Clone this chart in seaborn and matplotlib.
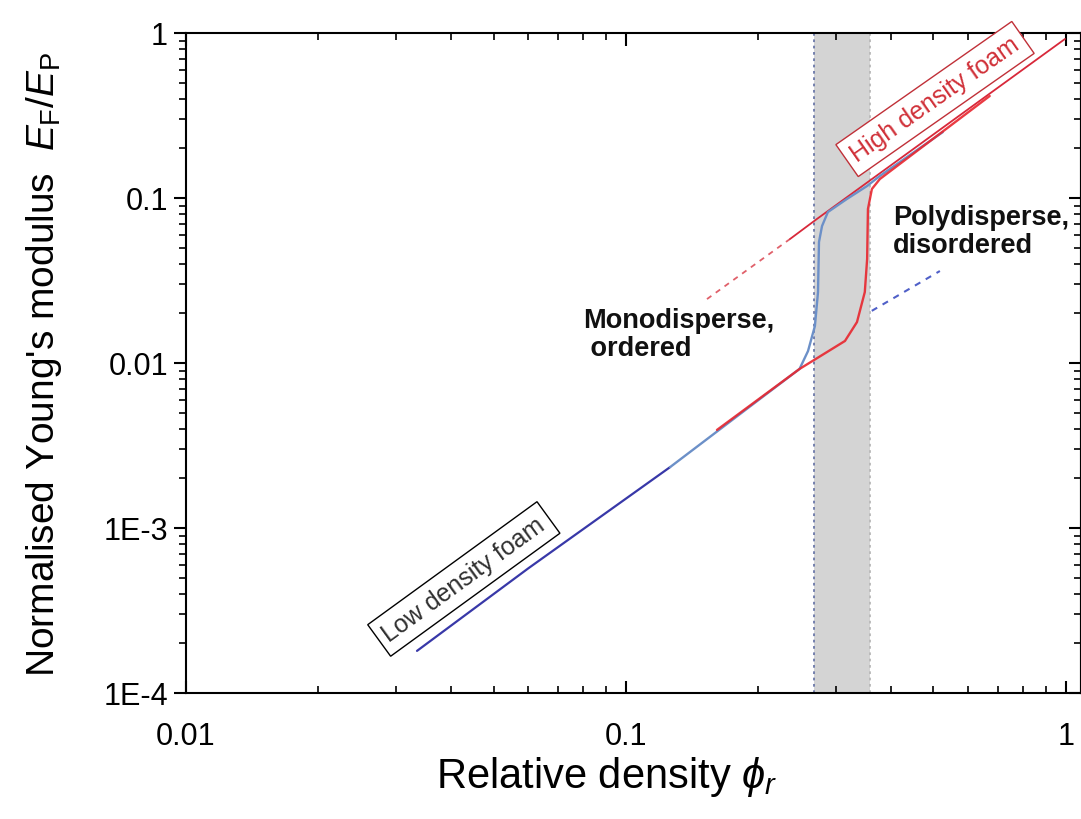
import numpy as np
import pandas as pd
import matplotlib
matplotlib.use("Agg")
import matplotlib.pyplot as plt
import matplotlib.ticker as mticker
import seaborn as sns

# ---------------- data ----------------
low_phi = [0.0335, 0.060, 0.126]
low_E = [1.80e-4, 5.7e-4, 2.34e-3]

mono_phi = [0.126, 0.2015, 0.248, 0.2593, 0.2688, 0.2732, 0.2746, 0.279, 0.2877, 0.3177, 0.3533, 0.3776, 0.525]
mono_E = [2.34e-3, 6.05e-3, 9.2e-3, 0.01182, 0.01676, 0.0269, 0.0541, 0.0676, 0.0822, 0.0986, 0.1183, 0.136, 0.251]

poly_phi = [0.161, 0.248, 0.3146, 0.335, 0.349, 0.3533, 0.3548, 0.3622, 0.3776, 0.671]
poly_E = [3.93e-3, 9.2e-3, 0.0136, 0.0177, 0.0269, 0.0427, 0.0858, 0.1134, 0.1303, 0.415]

high_dash_phi = [0.1528, 0.2359]
high_dash_E = [0.0244, 0.0564]
high_phi = [0.2359, 0.2716, 0.995]
high_E = [0.0564, 0.0746, 0.92]

lowext_phi = [0.362, 0.517]
lowext_E = [0.0207, 0.0361]

band = [0.268, 0.358]

xticks = [0.01, 0.1, 1]
xticklabels = ["0.01", "0.1", "1"]
yticks = [1e-4, 1e-3, 1e-2, 1e-1, 1]
yticklabels = ["1E-4", "1E-3", "0.01", "0.1", "1"]

# ---------------- style ----------------
sns.set_style("ticks")
plt.rcParams['font.family'] = ['Liberation Sans', 'DejaVu Sans']
plt.rcParams['mathtext.fontset'] = 'custom'
plt.rcParams['mathtext.rm'] = 'Liberation Sans'
plt.rcParams['mathtext.it'] = 'Liberation Sans:italic'
plt.rcParams['text.color'] = 'black'
plt.rcParams['axes.labelcolor'] = 'black'

fig = plt.figure(figsize=(10.81, 8.2), dpi=100)
ax = fig.add_axes([186/1081, 1-694/820, (1081-186)/1081, (694-34)/820])
ax.set_xscale('log')
ax.set_yscale('log')

ax.axvspan(band[0], band[1], color='#d4d4d4', lw=0, zorder=0)
ax.axvline(band[0], color='#6b78a8', ls=(0, (1.5, 2)), lw=1.3, zorder=1)
ax.axvline(band[1], color='#b8b8b8', ls=(0, (1.5, 2)), lw=1.3, zorder=1)

def line(xs, ys, color, lw, ls='-', z=2, alpha=1.0):
    df = pd.DataFrame({'x': xs, 'y': ys})
    sns.lineplot(data=df, x='x', y='y', ax=ax, color=color, lw=lw, linestyle=ls,
                 sort=False, estimator=None, zorder=z, alpha=alpha)

line(high_dash_phi, high_dash_E, '#e0606a', 1.3, ls=(0, (3, 3)), z=2)
line(high_phi, high_E, '#d8283a', 1.3, z=2)
line(lowext_phi, lowext_E, '#5060c8', 1.5, ls=(0, (3, 3)), z=2)
line(low_phi, low_E, '#3838a8', 1.6, z=3)
line(mono_phi, mono_E, '#6c90c8', 1.7, z=4)
line(poly_phi, poly_E, '#e8262e', 1.7, z=5, alpha=0.9)

ax.set_xlim(0.01, 1.082)
ax.set_ylim(1e-4, 1)

ax.set_xticks(xticks)
ax.set_xticklabels(xticklabels)
ax.set_yticks(yticks)
ax.set_yticklabels(yticklabels)
ax.xaxis.set_minor_locator(mticker.LogLocator(base=10, subs=np.arange(2, 10)))
ax.yaxis.set_minor_locator(mticker.LogLocator(base=10, subs=np.arange(2, 10)))
ax.xaxis.set_minor_formatter(mticker.NullFormatter())
ax.yaxis.set_minor_formatter(mticker.NullFormatter())

for s in ax.spines.values():
    s.set_visible(True)
    s.set_color('black')
    s.set_linewidth(1.5)

ax.tick_params(axis='x', which='both', direction='in', top=True, bottom=True, labelsize=22, pad=20,
               colors='black', labelcolor='black')
ax.tick_params(axis='y', which='both', direction='out', left=True, right=False, labelsize=22, pad=4,
               colors='black', labelcolor='black')
ax.tick_params(which='major', length=9, width=1.5)
ax.tick_params(which='minor', length=5, width=1.2)

# right-side inward ticks
sec = ax.secondary_yaxis('right')
sec.set_yticks(yticks)
sec.yaxis.set_minor_locator(mticker.LogLocator(base=10, subs=np.arange(2, 10)))
sec.tick_params(which='both', direction='in', labelright=False, colors='black')
sec.tick_params(which='major', length=9, width=1.5)
sec.tick_params(which='minor', length=5, width=1.2)
sec.spines['right'].set_linewidth(1.5)

ax.set_xlabel(r"Relative density $\phi_r$", fontsize=30, color='black')
ax.xaxis.set_label_coords(0.47, -0.093)
ax.set_ylabel(r"Normalised Young's modulus  $E_{\mathrm{F}}/E_{\mathrm{P}}$", fontsize=28, labelpad=28,
              color='black')

ax.text(0.0428, 4.91e-4, "Low density foam", rotation=36, rotation_mode='anchor',
        ha='center', va='center', fontsize=18, color='#303030',
        bbox=dict(boxstyle='square,pad=0.3', fc='white', ec='black', lw=1.0), zorder=6)
ax.text(0.504, 0.398, "High density foam", rotation=35, rotation_mode='anchor',
        ha='center', va='center', fontsize=18, color='#d03038',
        bbox=dict(boxstyle='square,pad=0.3', fc='white', ec='#c03038', lw=1.0), zorder=6)

ax.text(0.0798, 0.015, "Monodisperse,\n ordered", ha='left', va='center', fontsize=19.5,
        fontweight='bold', color='#111111', linespacing=1.1, zorder=6)
ax.text(0.405, 0.063, "Polydisperse,\ndisordered", ha='left', va='center', fontsize=19.5,
        fontweight='bold', color='#111111', linespacing=1.1, zorder=6)

fig.savefig("out.png", dpi=100)
